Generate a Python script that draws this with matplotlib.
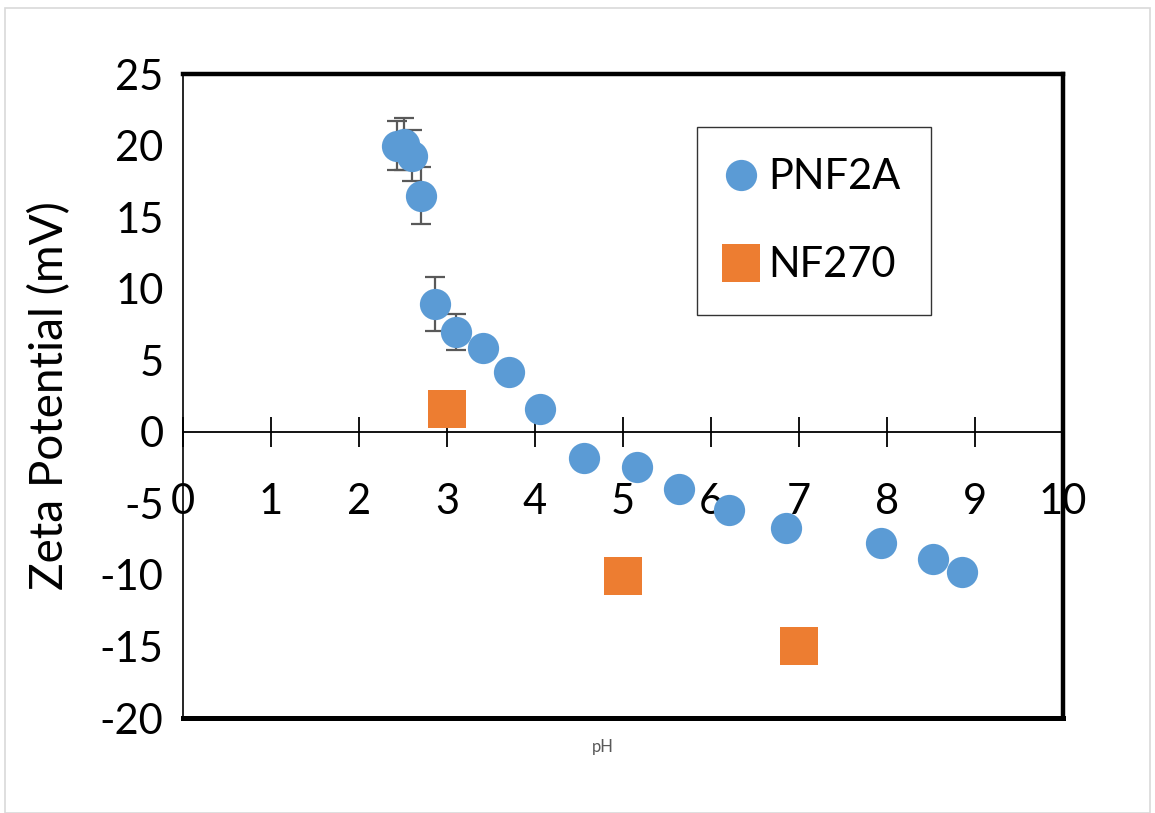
import matplotlib
matplotlib.use("Agg")
import matplotlib.pyplot as plt
from matplotlib.patches import Rectangle

# Data
pnf2a_ph = [2.43, 2.51, 2.60, 2.71, 2.86, 3.10, 3.41, 3.70, 4.06, 4.56, 5.16, 5.64, 6.20, 6.85, 7.93, 8.52, 8.85]
pnf2a_zeta = [20.0, 20.1, 19.3, 16.5, 8.95, 6.97, 5.87, 4.2, 1.59, -1.8, -2.45, -4.0, -5.45, -6.7, -7.76, -8.9, -9.8]
pnf2a_err = [1.7, 1.8, 1.8, 2.0, 1.9, 1.23, 0, 0, 0, 0, 0, 0, 0, 0, 0, 0, 0]
nf270_ph = [3.0, 5.0, 7.0]
nf270_zeta = [1.6, -10.05, -15.0]
x_ticks = list(range(0, 11))
y_ticks = list(range(-20, 26, 5))

plt.rcParams['font.family'] = ['Lato', 'DejaVu Sans']

fig = plt.figure(figsize=(11.55, 8.13), dpi=100)
ax = fig.add_axes([183/1155, 1-718/813, 880/1155, 644/813])

blue = '#5B9BD5'
orange = '#ED7D31'

ax.errorbar(pnf2a_ph, pnf2a_zeta, yerr=pnf2a_err, fmt='none', ecolor='#595959',
            elinewidth=1.6, capsize=7, capthick=1.6, zorder=2)
ax.plot(pnf2a_ph, pnf2a_zeta, 'o', color=blue, markersize=22.5, markeredgewidth=0,
        label='PNF2A', zorder=3)
ax.plot(nf270_ph, nf270_zeta, 's', color=orange, markersize=27, markeredgewidth=0,
        label='NF270', zorder=3)

ax.set_xlim(0, 10)
ax.set_ylim(-20, 25)
ax.set_xticks(x_ticks)
ax.set_yticks(y_ticks)
ax.set_yticklabels([str(v) for v in y_ticks])

ax.spines['bottom'].set_position(('data', 0))
ax.spines['bottom'].set_linewidth(1.3)
ax.spines['left'].set_linewidth(1.2)
ax.spines['top'].set_linewidth(3.2)
ax.spines['right'].set_linewidth(3.2)
ax.plot([0, 1], [0, 0], transform=ax.transAxes, color='black', lw=3.6,
        clip_on=False, solid_capstyle='projecting', zorder=5)

ax.tick_params(axis='x', direction='inout', length=22, width=1.3, pad=26,
               labelsize=30)
ax.tick_params(axis='y', length=0, pad=14, labelsize=30)

ax.set_ylabel('Zeta Potential (mV)', fontsize=33)
ax.yaxis.set_label_coords(-0.127, 0.5)
ax.text(0.477, -0.045, 'pH', transform=ax.transAxes, ha='center', va='center',
        fontsize=12, color='#595959')

leg = ax.legend(loc='upper left', bbox_to_anchor=((697-183)/880, (718-127)/644),
                fontsize=30, frameon=True, fancybox=False, edgecolor='black',
                borderpad=0.75, labelspacing=1.2, handletextpad=0.35,
                handlelength=0.6, borderaxespad=0)
leg.get_frame().set_linewidth(1.0)

fig.patches.append(Rectangle((5/1155, 0), 1145/1155, 1-8/813, transform=fig.transFigure,
                             fill=False, edgecolor='#d9d9d9', lw=1.2))

fig.savefig('out.png', dpi=100)
